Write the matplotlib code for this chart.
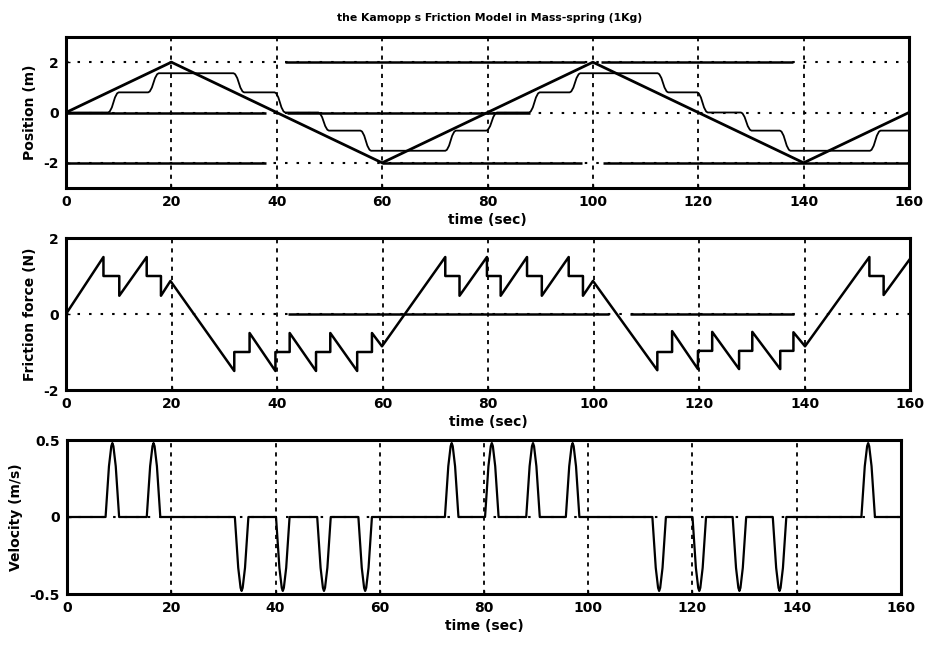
import numpy as np
import matplotlib
matplotlib.use('Agg')
import matplotlib.pyplot as plt

plt.rcParams['font.family'] = ['DejaVu Sans']
plt.rcParams['font.weight'] = 'bold'
plt.rcParams['lines.scale_dashes'] = False

# ---------------- data ----------------
x_ticks = [0, 20, 40, 60, 80, 100, 120, 140, 160]

# reference (triangle) position
ref_t = [0, 20, 60, 100, 140, 160]
ref_x = [0, 2, -2, 2, -2, 0]

# actual mass position: staircase (start time of each move, level after it)
step_start = [8.0, 15.6, 31.8, 39.6, 47.9, 55.9, 72.0, 79.8, 87.9, 95.6,
              112.3, 119.8, 128.1, 135.5, 152.6]
step_level = [0.8, 1.56, 0.8, 0.0, -0.72, -1.52, -0.72, 0.0, 0.8, 1.56,
              0.8, 0.0, -0.72, -1.52, -0.72]
ramp_dt = [0, 0.3, 0.7, 1.0, 1.3, 1.7, 2.0]
ramp_frac = [0, 0.05, 0.25, 0.5, 0.75, 0.95, 1.0]

# friction force vertices
friction_t = [0, 7.1, 7.1, 10.1, 10.1, 15.3, 15.3, 18.0, 18.0, 19.8, 31.9, 31.9,
              34.8, 34.8, 39.7, 39.7, 42.4, 42.4, 47.4, 47.4, 50.1, 50.1, 55.2,
              55.2, 58.0, 58.0, 59.9, 71.9, 71.9, 74.6, 74.6, 79.8, 79.8, 82.4,
              82.4, 87.4, 87.4, 90.2, 90.2, 95.3, 95.3, 98.0, 98.0, 99.9, 112.1,
              112.1, 114.9, 114.9, 119.8, 119.8, 122.5, 122.5, 127.6, 127.6,
              130.1, 130.1, 135.4, 135.4, 137.9, 137.9, 140.1, 152.3, 152.3,
              155.0, 155.0, 160]
friction_f = [0, 1.5, 1.0, 1.0, 0.48, 1.5, 1.0, 1.0, 0.48, 0.87, -1.5, -1.0,
              -1.0, -0.5, -1.5, -1.0, -1.0, -0.5, -1.5, -1.0, -1.0, -0.5, -1.5,
              -1.0, -1.0, -0.5, -0.85, 1.5, 1.0, 1.0, 0.48, 1.5, 1.0, 1.0,
              0.48, 1.5, 1.0, 1.0, 0.48, 1.5, 1.0, 1.0, 0.48, 0.87, -1.48,
              -1.0, -1.0, -0.45, -1.45, -0.97, -0.97, -0.47, -1.45, -0.97,
              -0.97, -0.47, -1.45, -0.97, -0.97, -0.48, -0.85, 1.5, 1.0,
              1.0, 0.5, 1.45]

# velocity pulses (centre time, sign) and the pulse profile
pulse_center = [8.7, 16.6, 33.5, 41.4, 49.3, 57.2, 73.8, 81.5, 89.4, 97.0,
                113.6, 121.3, 129.0, 136.7, 153.7]
pulse_sign = [1, 1, -1, -1, -1, -1, 1, 1, 1, 1, -1, -1, -1, -1, 1]
pulse_dt = [-1.3, -1.05, -0.65, -0.2, 0, 0.2, 0.65, 1.05, 1.3]
pulse_v = [0, 0.13, 0.33, 0.46, 0.48, 0.46, 0.33, 0.13, 0]

# grid segments that the scan shows as solid (y, t_start, t_end)
top_solid = [(2, 41.5, 98.5), (2, 101.5, 138), (0, 0, 38), (0, 42, 88),
             (-2, 0, 38), (-2, 60, 98), (-2, 102, 160)]
mid_solid = [(0, 42, 103), (0, 107, 138)]

# ---------------- build series ----------------
st_t, st_x, prev = [0.0], [0.0], 0.0
for s, lv in zip(step_start, step_level):
    for dt, fr in zip(ramp_dt, ramp_frac):
        st_t.append(s + dt)
        st_x.append(prev + (lv - prev) * fr)
    prev = lv
st_t.append(160.0)
st_x.append(prev)

v_t, v_v = [0.0], [0.0]
for c, sg in zip(pulse_center, pulse_sign):
    for dt, v in zip(pulse_dt, pulse_v):
        v_t.append(c + dt)
        v_v.append(sg * v)
v_t.append(160.0)
v_v.append(0.0)

# ---------------- figure ----------------
W, H = 932, 646
fig = plt.figure(figsize=(W / 100, H / 100), dpi=100)


def box(l, r, t, b):
    return [l / W, 1 - b / H, (r - l) / W, (b - t) / H]


ax1 = fig.add_axes(box(66, 909, 37, 188))
ax2 = fig.add_axes(box(66, 910, 238, 390))
ax3 = fig.add_axes(box(67, 901, 440, 594))

FS = 10
hdots = (0, (1.8, 6.5))
vdash = (0, (3.0, 3.6))


def style(ax, ylim, yticks, ylabels, hgrid, solid, ylabel):
    ax.set_xlim(0, 160)
    ax.set_ylim(*ylim)
    ax.set_xticks(x_ticks)
    ax.set_xticklabels([str(v) for v in x_ticks], fontsize=FS, fontweight='bold')
    ax.set_yticks(yticks)
    ax.set_yticklabels(ylabels, fontsize=FS, fontweight='bold')
    ax.tick_params(direction='in', length=3, width=1, pad=5)
    for sp in ax.spines.values():
        sp.set_linewidth(2.2)
    for xv in x_ticks[1:-1]:
        ax.axvline(xv, color='black', lw=1.3, linestyle=vdash, zorder=1)
    for yv in hgrid:
        ax.axhline(yv, color='black', lw=1.5, linestyle=hdots, zorder=1)
    for (yv, a, b) in solid:
        ax.plot([a, b], [yv, yv], color='black', lw=1.8, solid_capstyle='butt', zorder=1)
    ax.set_xlabel('time (sec)', fontsize=FS, fontweight='bold', labelpad=3)
    ax.set_ylabel(ylabel, fontsize=FS, fontweight='bold', labelpad=5)


style(ax1, (-3, 3), [-2, 0, 2], ['-2', '0', '2'], [-2, 0, 2], top_solid, 'Position (m)')
ax1.plot(ref_t, ref_x, color='black', lw=2.0, zorder=3)
ax1.plot(st_t, st_x, color='black', lw=1.3, zorder=3)

style(ax2, (-2, 2), [-2, 0, 2], ['-2', '0', '2'], [0], mid_solid, 'Friction force (N)')
ax2.plot(friction_t, friction_f, color='black', lw=1.8, zorder=3)

style(ax3, (-0.5, 0.5), [-0.5, 0, 0.5], ['-0.5', '0', '0.5'], [0], [], 'Velocity (m/s)')
ax3.plot(v_t, v_v, color='black', lw=1.6, zorder=3)

fig.text(490 / W, 1 - 18 / H, 'the Kamopp s Friction Model in Mass-spring (1Kg)',
         ha='center', va='center', fontsize=7.8, fontweight='bold')

fig.savefig('out.png', dpi=100)
